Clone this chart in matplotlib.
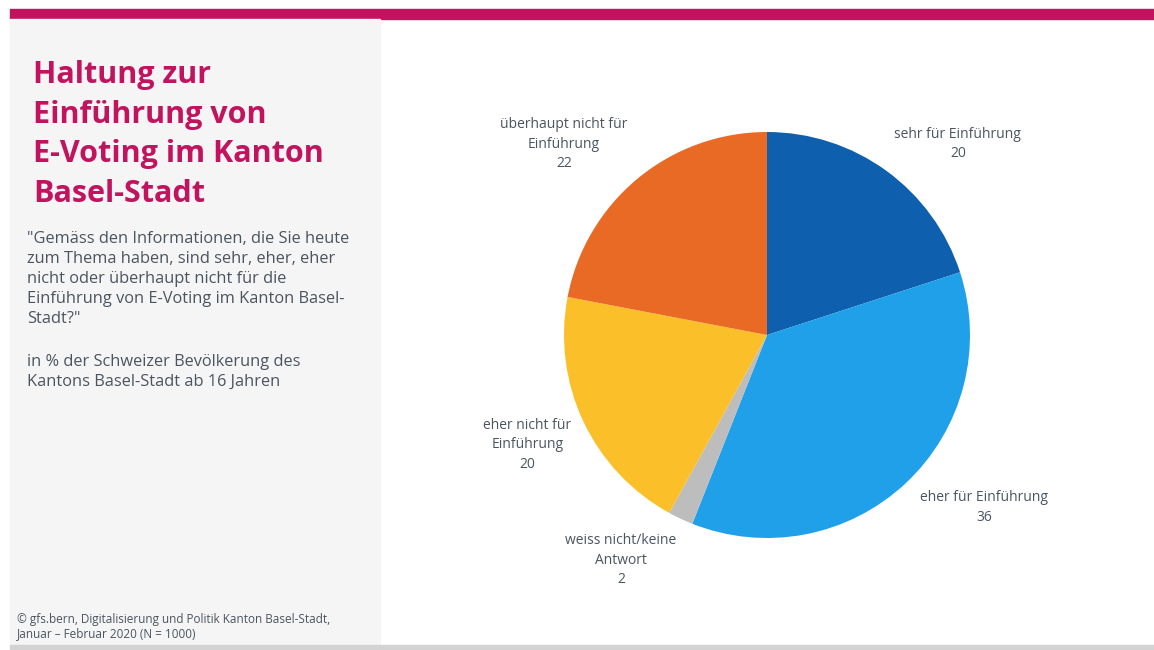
import matplotlib
matplotlib.use('Agg')
from matplotlib import pyplot as plt
from matplotlib.patches import Rectangle

# Daten
categories = ['sehr für Einführung', 'eher für Einführung', 'weiss nicht/keine\nAntwort',
              'eher nicht für\nEinführung', 'überhaupt nicht für\nEinführung']
values = [20, 36, 2, 20, 22]
colors = ['#0E5FAD', '#1FA0E8', '#BDBDBD', '#FBBF2A', '#E86A25']

title = 'Haltung zur\nEinführung von\nE-Voting im Kanton\nBasel-Stadt'
question = ('"Gemäss den Informationen, die Sie heute\nzum Thema haben, sind sehr, eher, eher\n'
            'nicht oder überhaupt nicht für die\nEinführung von E-Voting im Kanton Basel-\nStadt?"')
basis = 'in % der Schweizer Bevölkerung des\nKantons Basel-Stadt ab 16 Jahren'
source = '© gfs.bern, Digitalisierung und Politik Kanton Basel-Stadt,\nJanuar – Februar 2020 (N = 1000)'

plt.rcParams['font.family'] = ['Open Sans', 'DejaVu Sans']
W, H = 1154, 650
fig = plt.figure(figsize=(W / 100, H / 100), dpi=100)

# Hintergrund: Balken oben, graues Feld links, Linie unten
fig.patches.append(Rectangle((10 / W, 1 - 19 / H), 1 - 10 / W, 10 / H,
                             transform=fig.transFigure, color='#C2135E', zorder=0))
fig.patches.append(Rectangle((10 / W, 5 / H), 370 / W, 1 - 24 / H,
                             transform=fig.transFigure, color='#F5F5F5', zorder=0))
fig.patches.append(Rectangle((10 / W, 0), 1 - 10 / W, 5 / H,
                             transform=fig.transFigure, color='#D3D3D3', zorder=0))

fig.text(33 / W, 1 - 60 / H, title, color='#C2135E', fontsize=22, fontweight='bold',
         va='top', ha='left', linespacing=1.42)
fig.text(27 / W, 1 - 231 / H, question, color='#4A5560', fontsize=11.8,
         va='top', ha='left', linespacing=1.33)
fig.text(27 / W, 1 - 354 / H, basis, color='#4A5560', fontsize=11.8,
         va='top', ha='left', linespacing=1.33)
fig.text(17 / W, 1 - 613 / H, source, color='#4A5560', fontsize=8.5,
         va='top', ha='left', linespacing=1.1)

# Kuchendiagramm
cx, cy, r = 767, 335, 203
ax = fig.add_axes([(cx - r) / W, (H - cy - r) / H, 2 * r / W, 2 * r / H])
wedges, _ = ax.pie(values, colors=colors, startangle=90, counterclock=False,
                   wedgeprops=dict(linewidth=0))
ax.set_xlim(-1, 1)
ax.set_ylim(-1, 1)
ax.set_aspect('equal')
ax.axis('off')

# Beschriftungen (x, y in Radien)
label_pos = [(0.94, 0.94), (1.07, -0.85), (-0.72, -1.11), (-1.18, -0.54), (-1.0, 0.94)]
for cat, val, (lx, ly) in zip(categories, values, label_pos):
    ax.text(lx, ly, f'{cat}\n{val}', ha='center', va='center', color='#4A5560',
            fontsize=10, linespacing=1.4, clip_on=False)

fig.savefig('out.png', dpi=100)
